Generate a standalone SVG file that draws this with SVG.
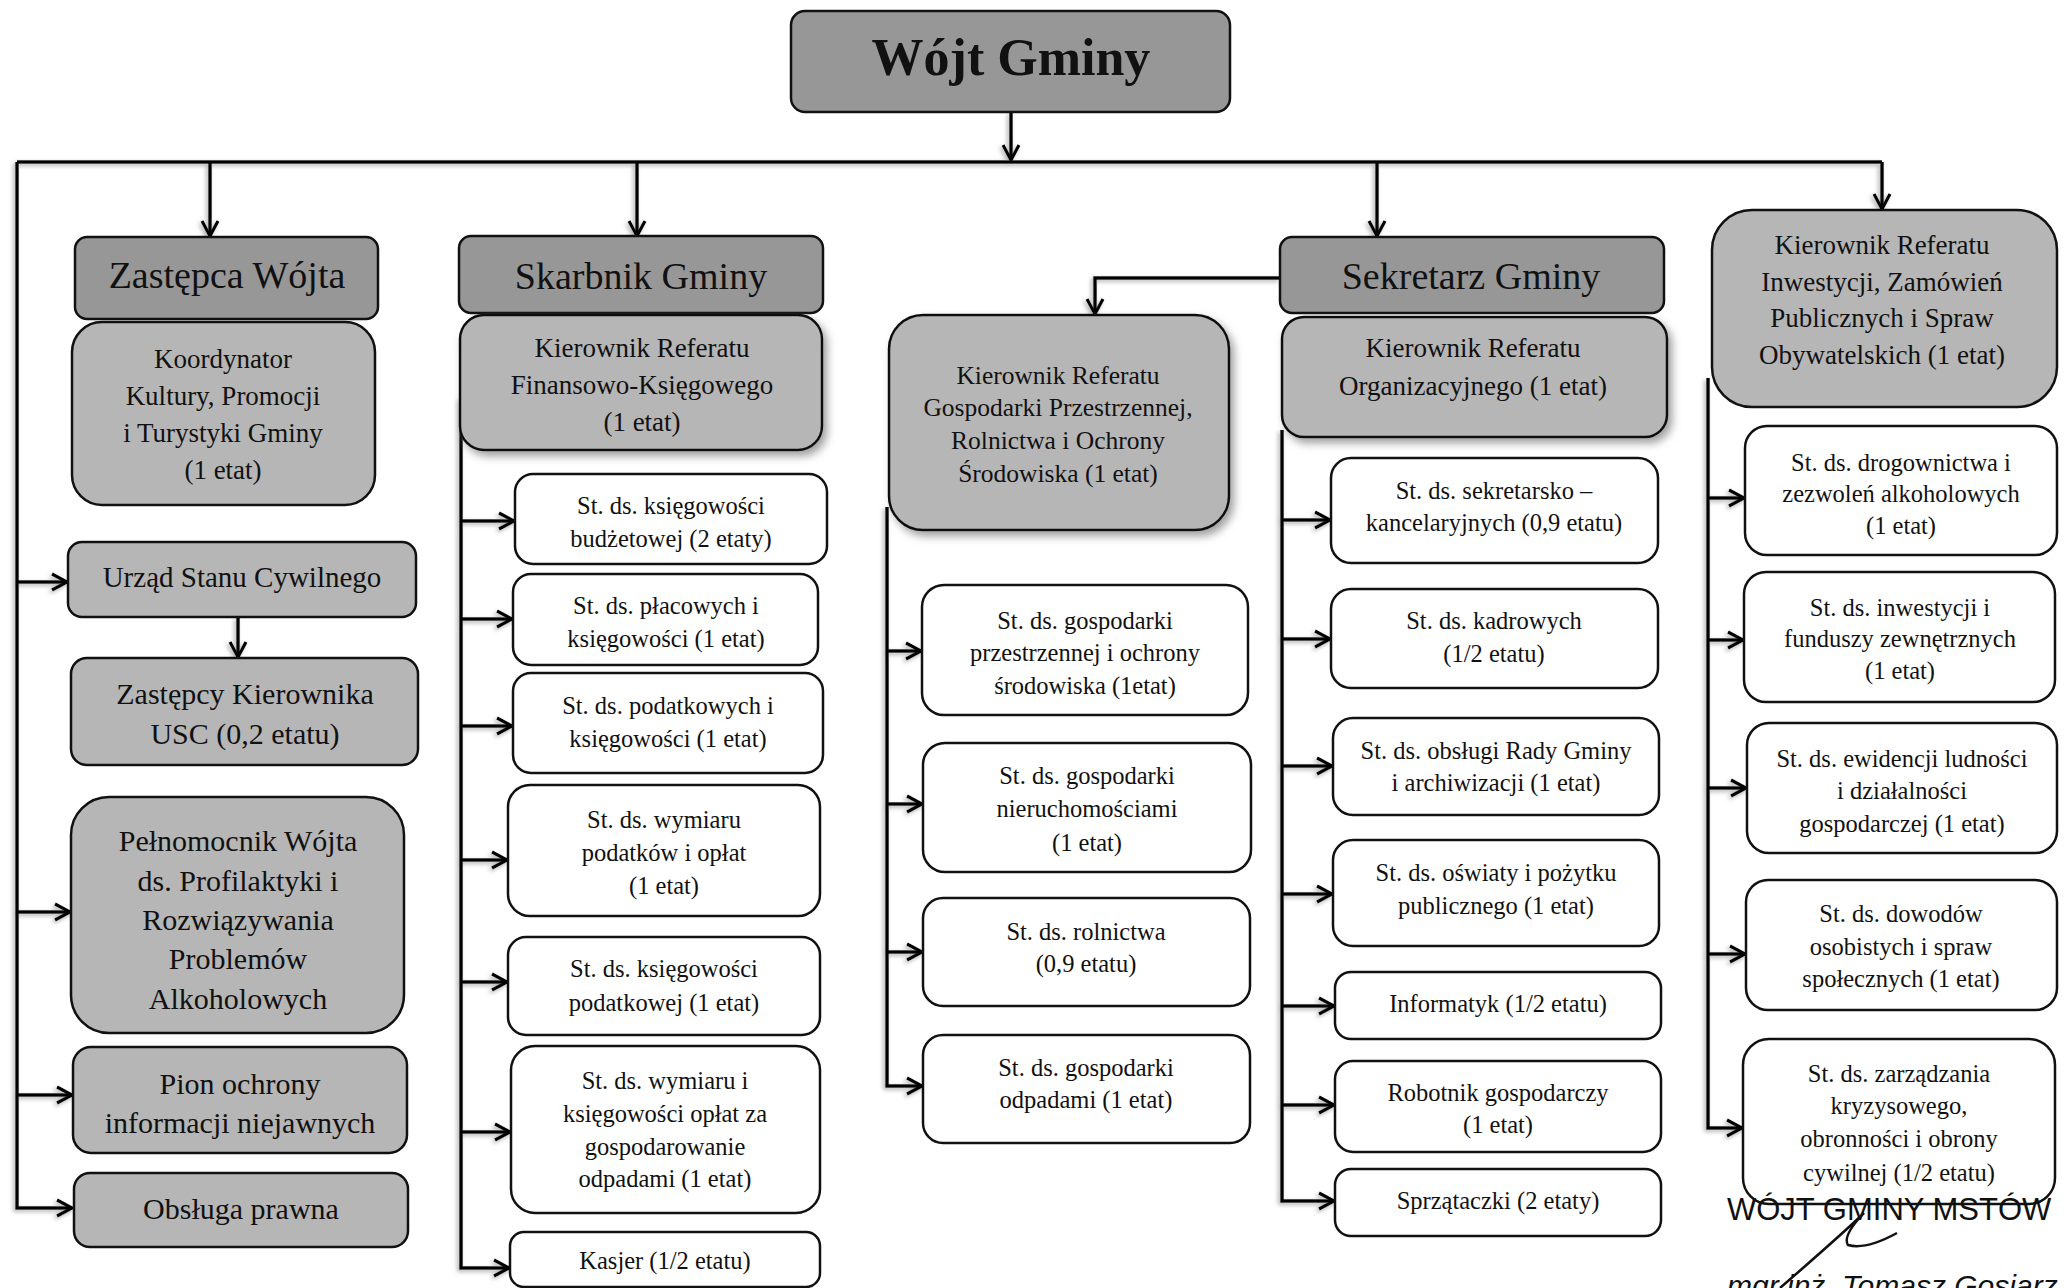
<svg xmlns="http://www.w3.org/2000/svg" width="2067" height="1288" viewBox="0 0 2067 1288">
<style>
  .dark{fill:#979797;stroke:#111;stroke-width:2.5}
  .light{fill:#b6b6b6;stroke:#111;stroke-width:2.5}
  .white{fill:#fff;stroke:#111;stroke-width:2.5}
  text{font-family:"Liberation Serif","DejaVu Serif",serif;fill:#111;text-anchor:middle;dominant-baseline:central}
  .t38{font-size:38px}
  .t30{font-size:30px}
  .t29{font-size:29px}
  .t27{font-size:27px}
  .t25{font-size:25.5px}
  .t24{font-size:24.5px}
  .conn path{fill:none;stroke:#000;stroke-width:3.5}
  .stamp{font-family:"Liberation Sans",Arial,sans-serif;text-anchor:start;dominant-baseline:alphabetic}
</style>
<defs>
  <marker id="arr" viewBox="0 0 20 20" refX="18" refY="10" markerWidth="20" markerHeight="20" orient="auto" markerUnits="userSpaceOnUse">
    <path d="M3,2 L18,10 L3,18" fill="none" stroke="#000" stroke-width="3.2"/>
  </marker>
  <filter id="sh" x="-10%" y="-10%" width="130%" height="130%">
    <feDropShadow dx="4" dy="5" stdDeviation="4" flood-color="#777" flood-opacity="0.7"/>
  </filter>
  <filter id="lsh" x="-5%" y="-5%" width="110%" height="110%">
    <feDropShadow dx="-2" dy="2" stdDeviation="2" flood-color="#999" flood-opacity="0.8"/>
  </filter>
</defs>
<rect width="2067" height="1288" fill="#fff"/>

<g id="connectors" class="conn" filter="url(#lsh)">
  <path d="M1011,112 V160" marker-end="url(#arr)"/>
  <path d="M17,162 H1882"/>
  <path d="M17,162 V1208 H72" marker-end="url(#arr)"/>
  <path d="M210,162 V236" marker-end="url(#arr)"/>
  <path d="M637,162 V236" marker-end="url(#arr)"/>
  <path d="M1377,162 V236" marker-end="url(#arr)"/>
  <path d="M1882,162 V209" marker-end="url(#arr)"/>
  <path d="M17,582 H67" marker-end="url(#arr)"/>
  <path d="M17,912 H70" marker-end="url(#arr)"/>
  <path d="M17,1095 H72" marker-end="url(#arr)"/>
  <path d="M238,617 V657" marker-end="url(#arr)"/>
  <path d="M1280,278 H1095 V314" marker-end="url(#arr)"/>
  <path d="M461,398 V1268 H509" marker-end="url(#arr)"/>
  <path d="M461,521 H514" marker-end="url(#arr)"/>
  <path d="M461,619 H512" marker-end="url(#arr)"/>
  <path d="M461,726 H512" marker-end="url(#arr)"/>
  <path d="M461,860 H507" marker-end="url(#arr)"/>
  <path d="M461,982 H507" marker-end="url(#arr)"/>
  <path d="M461,1132 H510" marker-end="url(#arr)"/>
  <path d="M887,507 V1086 H922" marker-end="url(#arr)"/>
  <path d="M887,651 H921" marker-end="url(#arr)"/>
  <path d="M887,804 H922" marker-end="url(#arr)"/>
  <path d="M887,952 H922" marker-end="url(#arr)"/>
  <path d="M1282,430 V1201 H1334" marker-end="url(#arr)"/>
  <path d="M1282,520 H1330" marker-end="url(#arr)"/>
  <path d="M1282,639 H1330" marker-end="url(#arr)"/>
  <path d="M1282,766 H1332" marker-end="url(#arr)"/>
  <path d="M1282,894 H1332" marker-end="url(#arr)"/>
  <path d="M1282,1006 H1334" marker-end="url(#arr)"/>
  <path d="M1282,1105 H1334" marker-end="url(#arr)"/>
  <path d="M1708,378 V1128 H1742" marker-end="url(#arr)"/>
  <path d="M1708,498 H1744" marker-end="url(#arr)"/>
  <path d="M1708,640 H1743" marker-end="url(#arr)"/>
  <path d="M1708,788 H1746" marker-end="url(#arr)"/>
  <path d="M1708,954 H1745" marker-end="url(#arr)"/>
</g>

<g id="n-wojt"><rect class="dark" x="791" y="11" width="439" height="101" rx="14"/><text x="1011" y="57" style="font-size:52px;font-weight:bold">Wójt Gminy</text></g>

<g id="n-zastepca"><rect class="dark" x="75" y="237" width="303" height="82" rx="12"/><text class="t38" x="227" y="275">Zastępca Wójta</text></g>
<g id="n-koordynator"><rect class="light" x="72" y="322" width="303" height="183" rx="30"/>
  <text class="t27"><tspan x="223" y="359">Koordynator</tspan><tspan x="223" y="396">Kultury, Promocji</tspan><tspan x="223" y="433">i Turystyki Gminy</tspan><tspan x="223" y="470">(1 etat)</tspan></text></g>
<g id="n-usc"><rect class="light" x="68" y="542" width="348" height="75" rx="14"/><text class="t29" x="242" y="577">Urząd Stanu Cywilnego</text></g>
<g id="n-usc-zast"><rect class="light" x="71" y="658" width="347" height="107" rx="16"/>
  <text class="t30"><tspan x="245" y="693">Zastępcy Kierownika</tspan><tspan x="245" y="733">USC (0,2 etatu)</tspan></text></g>
<g id="n-pelnomocnik"><rect class="light" x="71" y="797" width="333" height="236" rx="38"/>
  <text class="t30"><tspan x="238" y="840">Pełnomocnik Wójta</tspan><tspan x="238" y="880">ds. Profilaktyki i</tspan><tspan x="238" y="919">Rozwiązywania</tspan><tspan x="238" y="958">Problemów</tspan><tspan x="238" y="998">Alkoholowych</tspan></text></g>
<g id="n-pion"><rect class="light" x="73" y="1047" width="334" height="106" rx="18"/>
  <text class="t30"><tspan x="240" y="1083">Pion ochrony</tspan><tspan x="240" y="1122">informacji niejawnych</tspan></text></g>
<g id="n-prawna"><rect class="light" x="74" y="1173" width="334" height="74" rx="16"/><text class="t30" x="241" y="1208">Obsługa prawna</text></g>

<g id="n-skarbnik"><rect class="dark" x="459" y="236" width="364" height="77" rx="12"/><text class="t38" x="641" y="276">Skarbnik Gminy</text></g>
<g id="n-finanse"><rect class="light" x="460" y="315" width="362" height="135" rx="24" filter="url(#sh)"/>
  <text class="t27"><tspan x="642" y="348">Kierownik Referatu</tspan><tspan x="642" y="385">Finansowo-Księgowego</tspan><tspan x="642" y="422">(1 etat)</tspan></text></g>
<g id="n-f1"><rect class="white" x="515" y="474" width="312" height="90" rx="18"/>
  <text class="t24"><tspan x="671" y="505">St. ds. księgowości</tspan><tspan x="671" y="538">budżetowej (2 etaty)</tspan></text></g>
<g id="n-f2"><rect class="white" x="513" y="574" width="305" height="91" rx="18"/>
  <text class="t24"><tspan x="666" y="605">St. ds. płacowych i</tspan><tspan x="666" y="638">księgowości (1 etat)</tspan></text></g>
<g id="n-f3"><rect class="white" x="513" y="673" width="310" height="100" rx="18"/>
  <text class="t24"><tspan x="668" y="705">St. ds. podatkowych i</tspan><tspan x="668" y="738">księgowości (1 etat)</tspan></text></g>
<g id="n-f4"><rect class="white" x="508" y="785" width="312" height="131" rx="22"/>
  <text class="t24"><tspan x="664" y="819">St. ds. wymiaru</tspan><tspan x="664" y="852">podatków i opłat</tspan><tspan x="664" y="885">(1 etat)</tspan></text></g>
<g id="n-f5"><rect class="white" x="508" y="937" width="312" height="98" rx="18"/>
  <text class="t24"><tspan x="664" y="968">St. ds. księgowości</tspan><tspan x="664" y="1002">podatkowej (1 etat)</tspan></text></g>
<g id="n-f6"><rect class="white" x="511" y="1046" width="309" height="167" rx="24"/>
  <text class="t24"><tspan x="665" y="1080">St. ds. wymiaru i</tspan><tspan x="665" y="1113">księgowości opłat za</tspan><tspan x="665" y="1146">gospodarowanie</tspan><tspan x="665" y="1178">odpadami (1 etat)</tspan></text></g>
<g id="n-f7"><rect class="white" x="510" y="1232" width="310" height="55" rx="14"/>
  <text class="t24" x="665" y="1260">Kasjer (1/2 etatu)</text></g>

<g id="n-sekretarz"><rect class="dark" x="1280" y="237" width="384" height="76" rx="12"/><text class="t38" x="1471" y="276">Sekretarz Gminy</text></g>
<g id="n-gospodarka"><rect class="light" x="889" y="315" width="340" height="215" rx="34" filter="url(#sh)"/>
  <text class="t25"><tspan x="1058" y="375">Kierownik Referatu</tspan><tspan x="1058" y="407">Gospodarki Przestrzennej,</tspan><tspan x="1058" y="440">Rolnictwa i Ochrony</tspan><tspan x="1058" y="473">Środowiska (1 etat)</tspan></text></g>
<g id="n-g1"><rect class="white" x="922" y="585" width="326" height="130" rx="22"/>
  <text class="t24"><tspan x="1085" y="620">St. ds. gospodarki</tspan><tspan x="1085" y="652">przestrzennej i ochrony</tspan><tspan x="1085" y="685">środowiska (1etat)</tspan></text></g>
<g id="n-g2"><rect class="white" x="923" y="743" width="328" height="129" rx="22"/>
  <text class="t24"><tspan x="1087" y="775">St. ds. gospodarki</tspan><tspan x="1087" y="808">nieruchomościami</tspan><tspan x="1087" y="842">(1 etat)</tspan></text></g>
<g id="n-g3"><rect class="white" x="923" y="898" width="327" height="108" rx="20"/>
  <text class="t24"><tspan x="1086" y="931">St. ds. rolnictwa</tspan><tspan x="1086" y="963">(0,9 etatu)</tspan></text></g>
<g id="n-g4"><rect class="white" x="923" y="1035" width="327" height="108" rx="20"/>
  <text class="t24"><tspan x="1086" y="1067">St. ds. gospodarki</tspan><tspan x="1086" y="1099">odpadami (1 etat)</tspan></text></g>

<g id="n-organizacyjny"><rect class="light" x="1282" y="317" width="385" height="120" rx="22" filter="url(#sh)"/>
  <text class="t27"><tspan x="1473" y="348">Kierownik Referatu</tspan><tspan x="1473" y="386">Organizacyjnego (1 etat)</tspan></text></g>
<g id="n-o1"><rect class="white" x="1331" y="458" width="327" height="105" rx="20"/>
  <text class="t24"><tspan x="1494" y="490">St. ds. sekretarsko –</tspan><tspan x="1494" y="522">kancelaryjnych (0,9 etatu)</tspan></text></g>
<g id="n-o2"><rect class="white" x="1331" y="589" width="327" height="99" rx="20"/>
  <text class="t24"><tspan x="1494" y="620">St. ds. kadrowych</tspan><tspan x="1494" y="653">(1/2 etatu)</tspan></text></g>
<g id="n-o3"><rect class="white" x="1333" y="718" width="326" height="97" rx="20"/>
  <text class="t24"><tspan x="1496" y="750">St. ds. obsługi Rady Gminy</tspan><tspan x="1496" y="782">i archiwizacji (1 etat)</tspan></text></g>
<g id="n-o4"><rect class="white" x="1333" y="840" width="326" height="106" rx="20"/>
  <text class="t24"><tspan x="1496" y="872">St. ds. oświaty i pożytku</tspan><tspan x="1496" y="905">publicznego (1 etat)</tspan></text></g>
<g id="n-o5"><rect class="white" x="1335" y="972" width="326" height="67" rx="16"/>
  <text class="t24" x="1498" y="1003">Informatyk (1/2 etatu)</text></g>
<g id="n-o6"><rect class="white" x="1335" y="1061" width="326" height="91" rx="18"/>
  <text class="t24"><tspan x="1498" y="1092">Robotnik gospodarczy</tspan><tspan x="1498" y="1124">(1 etat)</tspan></text></g>
<g id="n-o7"><rect class="white" x="1335" y="1169" width="326" height="67" rx="16"/>
  <text class="t24" x="1498" y="1200">Sprzątaczki (2 etaty)</text></g>

<g id="n-inwestycje"><rect class="light" x="1712" y="210" width="345" height="197" rx="40"/>
  <text class="t27"><tspan x="1882" y="245">Kierownik Referatu</tspan><tspan x="1882" y="282">Inwestycji, Zamówień</tspan><tspan x="1882" y="318">Publicznych i Spraw</tspan><tspan x="1882" y="355">Obywatelskich (1 etat)</tspan></text></g>
<g id="n-i1"><rect class="white" x="1745" y="426" width="312" height="129" rx="22"/>
  <text class="t24"><tspan x="1901" y="462">St. ds. drogownictwa i</tspan><tspan x="1901" y="493">zezwoleń alkoholowych</tspan><tspan x="1901" y="525">(1 etat)</tspan></text></g>
<g id="n-i2"><rect class="white" x="1744" y="572" width="311" height="130" rx="22"/>
  <text class="t24"><tspan x="1900" y="607">St. ds. inwestycji i</tspan><tspan x="1900" y="638">funduszy zewnętrznych</tspan><tspan x="1900" y="670">(1 etat)</tspan></text></g>
<g id="n-i3"><rect class="white" x="1747" y="723" width="310" height="130" rx="22"/>
  <text class="t24"><tspan x="1902" y="758">St. ds. ewidencji ludności</tspan><tspan x="1902" y="790">i działalności</tspan><tspan x="1902" y="823">gospodarczej (1 etat)</tspan></text></g>
<g id="n-i4"><rect class="white" x="1746" y="880" width="311" height="130" rx="22"/>
  <text class="t24"><tspan x="1901" y="913">St. ds. dowodów</tspan><tspan x="1901" y="946">osobistych i spraw</tspan><tspan x="1901" y="978">społecznych (1 etat)</tspan></text></g>
<g id="n-i5"><rect class="white" x="1743" y="1039" width="312" height="165" rx="26"/>
  <text class="t24"><tspan x="1899" y="1073">St. ds. zarządzania</tspan><tspan x="1899" y="1105">kryzysowego,</tspan><tspan x="1899" y="1138">obronności i obrony</tspan><tspan x="1899" y="1172">cywilnej (1/2 etatu)</tspan></text></g>

<g id="stamp">
  <text class="stamp" x="1727" y="1220" style="font-size:31px">WÓJT GMINY MSTÓW</text>
  <text class="stamp" x="1727" y="1296" style="font-size:30px;font-style:italic">mgr inż. Tomasz Gosiarz</text>
  <path d="M1780,1288 C1810,1262 1840,1236 1864,1213 Q1842,1236 1848,1245 Q1866,1250 1897,1233" fill="none" stroke="#111" stroke-width="2.5"/>
</g>
</svg>
